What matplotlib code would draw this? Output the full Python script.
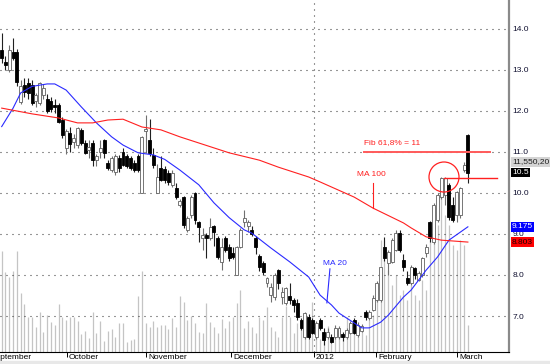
import matplotlib
matplotlib.use("Agg")
import matplotlib.pyplot as plt
from matplotlib.patches import Ellipse, Rectangle
import numpy as np

plt.rcParams['font.family'] = ['Liberation Sans', 'DejaVu Sans']
plt.rcParams['lines.scale_dashes'] = False

# daily candles, Sep 2011 -> Mar 2012
opens = [13.49, 13.20, 13.00, 13.44, 13.44, 12.22, 12.63, 12.68, 12.63, 12.25,
         12.20, 12.40, 12.30, 12.25, 12.15, 12.14, 11.78, 11.10, 11.46, 11.25,
         11.17, 11.54, 11.22, 11.05, 11.22, 10.80, 11.00, 11.30, 10.73, 10.56,
         10.51, 10.85, 11.00, 10.90, 10.85, 10.73, 10.90, 10.00, 11.50, 11.30,
         10.93, 10.00, 10.60, 10.59, 10.49, 10.20, 10.12, 9.70, 9.90, 9.10,
         9.46, 10.00, 9.30, 8.90, 8.98, 8.90, 9.20, 8.90, 8.32, 8.90,
         8.68, 8.54, 8.00, 8.68, 9.29, 9.20, 9.10, 8.90, 8.46, 8.29,
         7.80, 7.51, 7.46, 8.12, 7.46, 7.32, 7.49, 7.39, 7.32, 6.90,
         6.49, 6.98, 6.90, 6.49, 6.90, 6.61, 6.49, 6.49, 6.49, 6.50,
         6.55, 6.49, 6.59, 6.90, 6.54, 6.63, 7.10, 6.95, 7.15, 7.39,
         7.39, 8.68, 8.29, 8.32, 8.61, 9.02, 8.37, 7.93, 7.80, 8.17,
         7.88, 8.00, 8.54, 9.29, 8.80, 9.34, 9.90, 9.95, 10.20, 9.71,
         9.46, 9.46, 10.56, 11.41]
highs = [13.90, 13.35, 13.60, 13.78, 13.50, 12.75, 12.80, 12.80, 12.75, 12.45,
         12.70, 12.65, 12.42, 12.35, 12.30, 12.20, 11.85, 11.55, 11.60, 11.45,
         11.62, 11.58, 11.30, 11.30, 11.30, 10.95, 11.30, 11.32, 10.80, 10.90,
         10.95, 10.92, 11.10, 10.95, 10.90, 10.80, 10.95, 11.40, 11.90, 11.80,
         11.10, 10.70, 10.90, 10.65, 10.55, 10.55, 10.25, 9.85, 9.92, 9.45,
         9.95, 10.02, 9.32, 9.15, 9.02, 9.40, 9.22, 8.95, 8.90, 8.95,
         8.75, 8.68, 8.70, 9.15, 9.59, 9.35, 9.20, 8.95, 8.50, 8.35,
         7.95, 7.80, 8.05, 8.15, 7.70, 7.70, 7.80, 7.45, 7.42, 6.95,
         7.10, 7.05, 6.95, 6.88, 6.95, 6.70, 6.70, 6.55, 6.78, 6.75,
         6.62, 6.70, 6.88, 6.95, 6.85, 6.80, 7.15, 7.15, 7.50, 7.85,
         8.20, 8.93, 8.60, 8.90, 9.10, 9.10, 8.50, 8.10, 8.25, 8.20,
         8.10, 8.45, 8.75, 9.32, 9.75, 10.00, 10.40, 10.40, 10.25, 9.90,
         10.05, 10.15, 10.75, 11.45]
lows = [13.17, 13.00, 12.95, 13.25, 12.60, 12.18, 12.35, 12.30, 12.15, 12.10,
        12.15, 12.30, 11.95, 11.98, 11.95, 11.70, 11.35, 10.95, 11.00, 11.10,
        11.10, 11.18, 10.95, 10.85, 10.65, 10.65, 10.85, 10.85, 10.55, 10.50,
        10.45, 10.50, 10.65, 10.60, 10.55, 10.50, 10.50, 10.00, 10.98, 10.90,
        10.60, 10.00, 10.30, 10.25, 10.20, 10.15, 9.85, 9.65, 9.15, 9.05,
        9.40, 9.25, 8.80, 8.60, 8.41, 8.85, 8.70, 8.40, 8.12, 8.55,
        8.35, 8.40, 8.00, 8.65, 9.17, 9.05, 8.95, 8.50, 8.10, 8.00,
        7.70, 7.35, 7.40, 7.65, 7.30, 7.28, 7.30, 7.10, 6.90, 6.65,
        6.45, 6.45, 6.55, 6.45, 6.65, 6.30, 6.45, 6.35, 6.45, 6.45,
        6.40, 6.45, 6.55, 6.55, 6.50, 6.60, 6.90, 6.90, 7.12, 7.35,
        7.35, 8.35, 8.00, 8.30, 8.58, 8.55, 8.10, 7.75, 7.75, 7.90,
        7.85, 7.95, 8.45, 8.80, 8.75, 9.30, 9.85, 9.70, 9.35, 9.30,
        9.30, 9.40, 10.50, 10.24]
closes = [13.29, 13.12, 13.49, 13.30, 12.70, 12.60, 12.46, 12.44, 12.20, 12.40,
          12.68, 12.55, 12.00, 12.05, 12.10, 11.73, 11.41, 11.50, 11.20, 11.35,
          11.59, 11.22, 10.98, 11.12, 10.80, 10.90, 11.10, 10.98, 10.60, 10.85,
          10.90, 10.60, 10.68, 10.65, 10.60, 10.56, 10.56, 11.37, 11.56, 10.98,
          10.68, 10.39, 10.32, 10.32, 10.27, 10.49, 9.90, 9.80, 9.22, 9.39,
          9.90, 9.34, 9.17, 8.98, 8.90, 9.17, 9.05, 8.44, 8.68, 8.61,
          8.41, 8.44, 8.68, 9.10, 9.39, 9.30, 9.00, 8.68, 8.20, 8.07,
          7.93, 7.70, 8.00, 7.80, 7.59, 7.68, 7.39, 7.27, 6.98, 6.71,
          7.07, 6.49, 6.59, 6.83, 6.71, 6.41, 6.61, 6.37, 6.71, 6.70,
          6.50, 6.66, 6.83, 6.59, 6.78, 6.76, 6.98, 7.10, 7.44, 7.80,
          8.20, 8.41, 8.56, 8.85, 9.02, 8.61, 8.20, 7.80, 8.20, 8.00,
          8.05, 8.41, 8.68, 8.90, 9.71, 9.95, 10.37, 10.37, 9.41, 9.34,
          10.02, 10.12, 10.68, 10.49]
volume = [101, 80, 75, 81, 101, 59, 48, 35, 35, 25,
          40, 20, 37, 30, 27, 48, 35, 32, 35, 35,
          31, 18, 21, 14, 40, 19, 31, 11, 21, 23,
          15, 29, 29, 10, 12, 13, 56, 81, 29, 25,
          31, 25, 27, 27, 23, 34, 25, 56, 50, 32,
          36, 29, 20, 19, 49, 30, 25, 19, 33, 24,
          31, 35, 49, 62, 24, 31, 25, 19, 35, 32,
          45, 25, 21, 15, 35, 46, 35, 19, 29, 31,
          24, 14, 50, 23, 13, 14, 26, 12, 25, 17,
          18, 35, 24, 29, 22, 27, 17, 32, 37, 52,
          112, 112, 82, 67, 77, 57, 62, 52, 67, 57,
          52, 72, 62, 112, 122, 127, 157, 137, 127, 107,
          102, 112, 107, 27]

# moving averages, read at points along the curves
ma20_idx = [0, 3, 5, 8, 12, 14, 17, 21, 25, 29, 32, 36, 40, 43, 47, 52, 56, 60,
            64, 66, 71, 76, 81, 84, 87, 89, 93, 95, 97, 100, 102, 106, 108, 112,
            115, 118, 123]
ma20_val = [11.62, 12.07, 12.44, 12.60, 12.66, 12.66, 12.51, 12.10, 11.71, 11.37,
            11.17, 10.98, 10.93, 10.82, 10.56, 10.20, 9.76, 9.40, 9.10, 9.02,
            8.66, 8.32, 7.95, 7.51, 7.27, 7.07, 6.83, 6.71, 6.71, 6.85, 7.02,
            7.46, 7.63, 8.12, 8.44, 8.85, 9.175]
ma100_idx = [0, 8, 15, 20, 24, 28, 32, 37, 42, 47, 52, 60, 68, 73, 81, 84, 93,
             98, 106, 108, 112, 116, 123]
ma100_val = [12.07, 11.93, 11.83, 11.71, 11.71, 11.78, 11.80, 11.61, 11.54, 11.37,
             11.22, 10.98, 10.80, 10.63, 10.39, 10.27, 9.90, 9.63, 9.27, 9.15,
             8.93, 8.85, 8.803]

month_pos = [-3.6, 17.2, 38.1, 60.5, 82.4, 98.8, 120.1]
month_lbl = ['September', 'October', 'November', 'December', '2012', 'February', 'March']
price_ticks = [7, 8, 9, 10, 11, 12, 13, 14]

fib_level = 11.0
resist_level = 10.37
last_close = 10.5
ma20_last = 9.175
ma100_last = 8.803
vol_text = '11,550,20'

dots = (0, (0.72, 3.6))

fig = plt.figure(figsize=(5.5, 3.64), dpi=100)
fig.patches.append(Rectangle((0, 0), 1, 3 / 364, transform=fig.transFigure,
                             color='#e8e8e8', zorder=0))
ax = fig.add_axes([0, 12 / 364, 509 / 550, 352 / 364])
axv = ax.twinx()
ax.set_zorder(axv.get_zorder() + 1)
ax.patch.set_visible(False)

x = np.arange(len(closes))
o = np.array(opens)
c = np.array(closes)
h = np.array(highs)
l = np.array(lows)
up = c >= o

# volume behind
axv.vlines(x, 0, volume, color='#c4c4c4', lw=0.9)
axv.set_ylim(0, 352)
axv.set_yticks([])
for s in axv.spines.values():
    s.set_visible(False)

# grid
for p in price_ticks:
    ax.axhline(p, color='#303030', lw=0.8, ls=dots, zorder=1)
ax.axvline(month_pos[4], color='#303030', lw=0.8, ls=dots, zorder=1)

# candles
ax.vlines(x[up], l[up], h[up], color='#707070', lw=0.8, zorder=3)
ax.vlines(x[~up], l[~up], h[~up], color='#202020', lw=0.8, zorder=3)
ax.bar(x, np.maximum(np.abs(c - o), 0.02), bottom=np.minimum(o, c), width=0.78,
       color=np.where(up, 'white', 'black'), edgecolor=np.where(up, '#606060', 'black'),
       linewidth=0.6, zorder=4)

# moving averages
ax.plot(ma20_idx, ma20_val, color='#2a2aff', lw=0.8, zorder=5)
ax.plot(ma100_idx, ma100_val, color='#ff2020', lw=0.8, zorder=5)

# annotations
ax.plot([95.6, 128.8], [fib_level, fib_level], color='#ff5a5a', lw=1.4, zorder=5)
ax.text(95.6, 11.22, 'Fib 61,8% = 11', color='#ff2020', fontsize=6, va='center', zorder=6)
ax.text(93.8, 10.44, 'MA 100', color='#ff2020', fontsize=6, va='center', zorder=6)
ax.plot([98.0, 98.0], [10.24, 9.63], color='#ff2020', lw=0.8, zorder=5)
ax.text(84.8, 8.29, 'MA 20', color='#2a2aff', fontsize=6, va='center', zorder=6)
ax.plot([86.6, 85.8], [8.15, 7.32], color='#2a2aff', lw=0.8, zorder=5)
ax.add_patch(Ellipse((116.7, 10.39), 30 / 3.79, 30 / 41, fill=False,
                     ec='#ff2020', lw=0.9, zorder=6))
ax.plot([116.7, 130.7], [resist_level, resist_level], color='#ff2020', lw=1.0, zorder=5)

# axes styling
ax.yaxis.tick_right()
ax.set_yticks(price_ticks)
ax.set_yticklabels([f'{p:.1f}' for p in price_ticks], fontsize=6, color='#101030')
ax.tick_params(axis='y', length=0, pad=2.5)
ax.set_xticks(month_pos)
ax.set_xticklabels([])
ax.tick_params(axis='x', direction='out', length=3.6, width=0.7, color='black')
# limits after the ticks, set_xticks would widen them
ax.set_xlim(-0.45, 133.85)
ax.set_ylim(6.122, 14.707)
for side in ['top', 'left']:
    ax.spines[side].set_visible(False)
ax.spines['right'].set_color('#8a8a8a')
ax.spines['right'].set_linewidth(1.6)
ax.spines['bottom'].set_color('black')
ax.spines['bottom'].set_linewidth(0.8)

for pos, lbl in zip(month_pos, month_lbl):
    ax.annotate(lbl, xy=(pos, 0), xycoords=('data', 'axes fraction'), xytext=(1.5, -1.2),
                textcoords='offset points', ha='left', va='top', fontsize=6,
                annotation_clip=False)

# price boxes on the right
boxes = [(10.76, vol_text, '#d4d4d4', '#202020'),
         (last_close, f'{last_close}', 'black', 'white'),
         (ma20_last, f'{ma20_last}', '#0000ff', 'white'),
         (ma100_last, f'{ma100_last}', '#ff0000', '#200000')]
for yv, txt, bg, fg in boxes:
    ax.annotate(txt, xy=(1, yv), xycoords=('axes fraction', 'data'), xytext=(2.2, 0),
                textcoords='offset points', ha='left', va='center', fontsize=6, color=fg,
                bbox=dict(boxstyle='square,pad=0.15', fc=bg, ec='none'),
                annotation_clip=False, zorder=10)

fig.savefig('out.png', dpi=100)
